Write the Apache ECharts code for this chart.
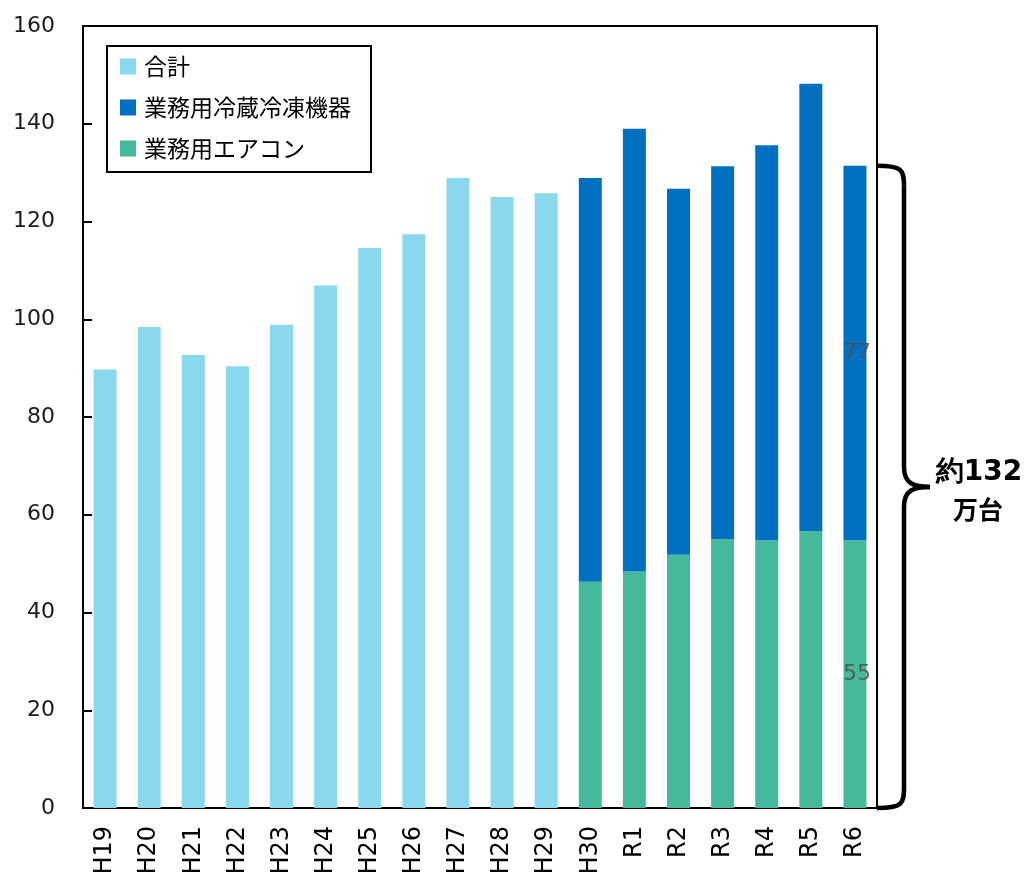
<!DOCTYPE html>
<html><head><meta charset="utf-8">
<script src="https://cdn.jsdelivr.net/npm/echarts@6/dist/echarts.min.js"></script>
<style>html,body{margin:0;padding:0;background:#fff}#c{width:1033px;height:872px}</style>
</head><body><div id="c"></div>
<script>
const categories = ['H19','H20','H21','H22','H23','H24','H25','H26','H27','H28','H29','H30','R1','R2','R3','R4','R5','R6'];
const totalVals = [89.7,98.4,92.7,90.4,98.9,106.9,114.6,117.4,128.9,125.0,125.8,'-','-','-','-','-','-','-'];
const refrigVals = ['-','-','-','-','-','-','-','-','-','-','-',82.6,90.6,74.9,76.3,80.8,91.5,76.6];
const airconVals = ['-','-','-','-','-','-','-','-','-','-','-',46.3,48.4,51.8,55.0,54.8,56.7,54.8];
const seriesNames = ['合計','業務用冷蔵冷凍機器','業務用エアコン'];
const annotationLines = ['約132','万台'];

const chart = echarts.init(document.getElementById('c'));
const lastIdx = categories.length - 1;
function withLastLabel(arr){
  return arr.map((v,i)=> i===lastIdx ? {value:v, label:{show:true, position:'inside', formatter:p=>Math.round(p.value), color:'rgba(80,80,80,0.85)', fontSize:22, fontFamily:'DejaVu Sans', offset:[2,0]}} : v);
}
const axisFont = 'DejaVu Sans';
chart.setOption({
  animation:false,
  grid:{left:83, right:156, top:26, bottom:64, outerBoundsMode:'none', containLabel:false, show:true, borderColor:'#000', borderWidth:2, backgroundColor:'transparent'},
  legend:{
    data:seriesNames, orient:'vertical', left:107, top:46,
    borderColor:'#000', borderWidth:2, padding:[9,20,12,13],
    itemWidth:16, itemHeight:16, itemGap:18, icon:'rect',
    textStyle:{fontSize:23, color:'#000', fontFamily:'Noto Sans CJK JP', padding:[0,0,0,3]}
  },
  xAxis:{
    type:'category', data:categories,
    axisLine:{lineStyle:{color:'#000', width:2}},
    axisTick:{inside:true, length:6, lineStyle:{color:'#000', width:2}},
    axisLabel:{rotate:90, color:'#000', fontSize:24, fontFamily:axisFont, margin:18}
  },
  yAxis:{
    type:'value', min:0, max:160, interval:20,
    splitLine:{show:false},
    axisLine:{show:true, lineStyle:{color:'#000', width:2}},
    axisTick:{show:true, inside:true, length:9, lineStyle:{color:'#000', width:2}},
    axisLabel:{color:'#1a1a1a', fontSize:22, fontFamily:axisFont, margin:28}
  },
  series:[
    {name:seriesNames[0], type:'bar', data:totalVals, barWidth:23, barGap:'-100%', itemStyle:{color:'#89D8EE'}},
    {name:seriesNames[2], type:'bar', stack:'s', data:withLastLabel(airconVals), barWidth:23, itemStyle:{color:'#45B99B'}},
    {name:seriesNames[1], type:'bar', stack:'s', data:withLastLabel(refrigVals), barWidth:23, itemStyle:{color:'#0070C0'}}
  ]
});

// brace annotation computed from the chart's own scales
const topVal = refrigVals[lastIdx] + airconVals[lastIdx];
const yTop = chart.convertToPixel({yAxisIndex:0}, topVal);
const yBot = chart.convertToPixel({yAxisIndex:0}, 0);
const xEdge = chart.getWidth() - 156;
const yMid = (yTop + yBot) / 2;
const x1 = xEdge, x2 = xEdge + 27, x3 = xEdge + 53;
const r = 20;
const st = {stroke:'#000', lineWidth:4.5, fill:null};
function bz(a,b,c,d,e,f,g,h){return {type:'bezierCurve', shape:{x1:a,y1:b,cpx1:c,cpy1:d,cpx2:e,cpy2:f,x2:g,y2:h}, style:st};}
chart.setOption({
  graphic:[
    bz(x1,yTop, x2-2,yTop, x2,yTop+4, x2,yTop+r),
    {type:'line', shape:{x1:x2,y1:yTop+r,x2:x2,y2:yMid-r}, style:st},
    bz(x2,yMid-r, x2,yMid-3, x3-16,yMid, x3,yMid),
    bz(x3,yMid, x3-16,yMid, x2,yMid+3, x2,yMid+r),
    {type:'line', shape:{x1:x2,y1:yMid+r,x2:x2,y2:yBot-r}, style:st},
    bz(x2,yBot-r, x2,yBot-4, x2-2,yBot, x1,yBot),
    {type:'text', x:xEdge+102, y:yMid-14, style:{text:annotationLines[0], font:'bold 28px "DejaVu Sans"', fill:'#000', align:'center', verticalAlign:'middle'}},
    {type:'text', x:xEdge+101, y:yMid+23, style:{text:annotationLines[1], font:'bold 25px "Noto Sans CJK JP"', fill:'#000', align:'center', verticalAlign:'middle'}}
  ]
});
</script></body></html>
